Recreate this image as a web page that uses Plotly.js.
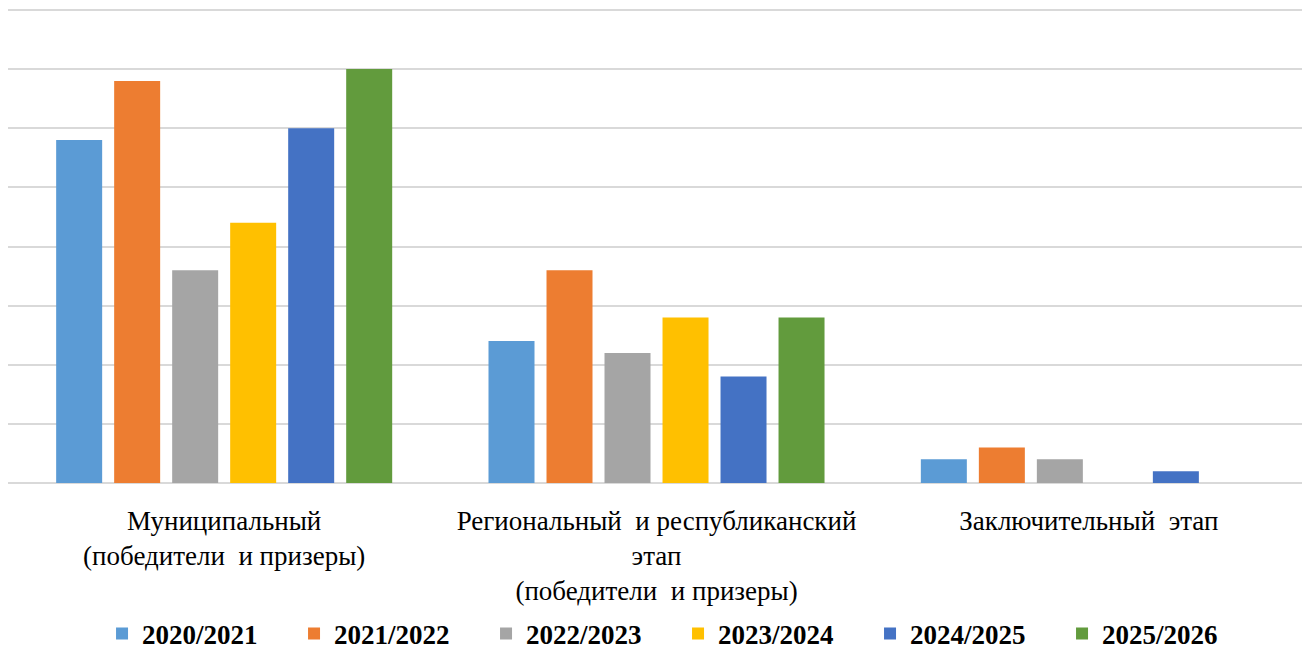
<!DOCTYPE html>
<html>
<head>
<meta charset="utf-8">
<script src="https://cdn.plot.ly/plotly-3.0.1.min.js"></script>
<style>html,body{margin:0;padding:0;background:#fff;overflow:hidden}#chart{width:1302px;height:651px}</style>
</head>
<body>
<div id="chart"></div>
<script>
const categories = [
  "Муниципальный<br>(победители \u00A0и призеры)",
  "Региональный \u00A0и республиканский<br>этап<br>(победители \u00A0и призеры)",
  "Заключительный \u00A0этап"
];
const seriesNames = ["2020/2021", "2021/2022", "2022/2023", "2023/2024", "2024/2025", "2025/2026"];
const v2020 = [29, 12, 2];
const v2021 = [34, 18, 3];
const v2022 = [18, 11, 2];
const v2023 = [22, 14, 0];
const v2024 = [30, 9, 1];
const v2025 = [35, 14, 0];
const seriesValues = [v2020, v2021, v2022, v2023, v2024, v2025];
const colors = ["#5B9BD5", "#ED7D31", "#A5A5A5", "#FFC000", "#4472C4", "#629B3D"];

const serif = "Liberation Serif";

const traces = seriesNames.map((name, i) => ({
  type: "bar",
  name: name,
  x: categories,
  y: seriesValues[i],
  marker: {color: colors[i], line: {width: 0}},
  hoverinfo: "x+y+name"
}));

const layout = {
  width: 1302,
  height: 651,
  margin: {l: 8, r: 0, t: 4, b: 168, pad: 0},
  paper_bgcolor: "#ffffff",
  plot_bgcolor: "#ffffff",
  barmode: "group",
  bargap: 0.195,
  bargroupgap: 0.207,
  font: {family: serif, color: "#000000", size: 27},
  xaxis: {
    type: "category",
    range: [-0.5, 2.493],
    automargin: false,
    showgrid: false,
    showline: false,
    zeroline: false,
    ticks: "",
    ticklabelstandoff: 19,
    tickfont: {family: serif, size: 27, color: "#000000"}
  },
  yaxis: {
    range: [0, 40.507],
    tickvals: [0, 5, 10, 15, 20, 25, 30, 35, 40],
    automargin: false,
    showticklabels: false,
    showgrid: true,
    gridcolor: "#D9D9D9",
    gridwidth: 2,
    zeroline: true,
    zerolinecolor: "#D9D9D9",
    zerolinewidth: 2,
    showline: false,
    ticks: ""
  },
  showlegend: true,
  legend: {
    orientation: "h",
    x: 0.5178,
    xanchor: "center",
    yref: "container",
    y: 0.026,
    yanchor: "middle",
    entrywidth: 147,
    entrywidthmode: "pixels",
    font: {family: serif, size: 27, color: "#000000", weight: "bold"},
    traceorder: "normal",
    itemclick: false
  }
};

Plotly.newPlot("chart", traces, layout, {displayModeBar: false, staticPlot: true});
</script>
</body>
</html>
